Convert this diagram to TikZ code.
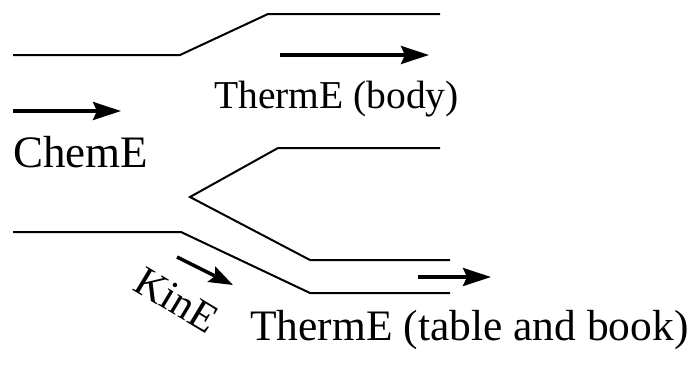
\documentclass[tikz,border=0pt]{standalone}
\usepackage{fontspec}
\setmainfont{Liberation Serif}
\usepackage{tikz}
\usetikzlibrary{arrows.meta}

\begin{document}
\begin{tikzpicture}[
  x=1pt,y=-1pt,
  wall/.style={line width=2pt,line join=miter},
  a/.style={-{Stealth[length=28pt,width=18pt,inset=4pt]},line width=3.5pt},
  lbl/.style={inner sep=0,anchor=base west}
]
\useasboundingbox (0,0) rectangle (696,391);

% channel walls
\draw[wall] (13,55) -- (180,55) -- (268,14) -- (440,14);
\draw[wall] (440,148) -- (278,148) -- (190,197) -- (310,260) -- (450,260);
\draw[wall] (13,232) -- (181,232) -- (310,293) -- (450,293);

% flow arrows
\coordinate (chemS) at (13,111);   \coordinate (chemE) at (121,111);
\coordinate (bodyS) at (280,55);   \coordinate (bodyE) at (429,55);
\coordinate (kinS)  at (177,257);  \coordinate (kinE)  at (233,285);
\coordinate (tabS)  at (418,277);  \coordinate (tabE)  at (491,277);
\draw[a] (chemS) -- (chemE);
\draw[a] (bodyS) -- (bodyE);
\draw[a,-{Stealth[length=24pt,width=17pt,inset=4pt]}] (kinS) -- (kinE);
\draw[a] (tabS) -- (tabE);

% labels
\node[lbl] (chem) at (13,167) {\fontsize{45}{50}\selectfont ChemE};
\node[lbl] (body) at (214,108) {\fontsize{39.5}{44}\selectfont ThermE (body)};
\node[lbl] (table) at (250,340) {\fontsize{43.5}{48}\selectfont ThermE (table and book)};
\node[inner sep=0,rotate=-31] (kin) at (177,300) {\fontsize{42}{46}\selectfont KinE};
\end{tikzpicture}
\end{document}
